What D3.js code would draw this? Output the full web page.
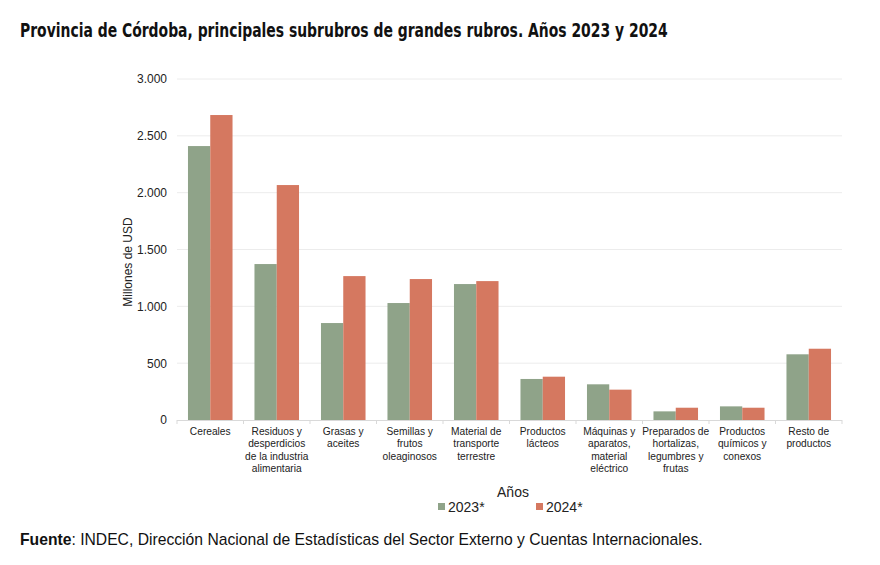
<!DOCTYPE html>
<html><head><meta charset="utf-8">
<script src="https://cdn.jsdelivr.net/npm/d3@7"></script>
<style>body{margin:0;background:#fff;} svg{display:block;}</style>
</head><body>
<script>
const categories = [
  ["Cereales"],
  ["Residuos y","desperdicios","de la industria","alimentaria"],
  ["Grasas y","aceites"],
  ["Semillas y","frutos","oleaginosos"],
  ["Material de","transporte","terrestre"],
  ["Productos","lácteos"],
  ["Máquinas y","aparatos,","material","eléctrico"],
  ["Preparados de","hortalizas,","legumbres y","frutas"],
  ["Productos","químicos y","conexos"],
  ["Resto de","productos"]
];
const series = ["2023*","2024*"];
const values2023 = [2410, 1372, 853, 1029, 1196, 361, 314, 76, 120, 578];
const values2024 = [2683, 2067, 1266, 1240, 1222, 381, 267, 108, 108, 627];
const yTicks = [0, 500, 1000, 1500, 2000, 2500, 3000];
const colors = ["#8fa389", "#d57860"];

const W = 880, H = 565;
const svg = d3.select("body").append("svg").attr("width", W).attr("height", H);
const font = "'Liberation Sans', Arial, sans-serif";

const x0 = d3.scaleBand().domain(d3.range(categories.length)).range([177, 842]).paddingInner(0.33).paddingOuter(0.165);
const x1 = d3.scaleBand().domain([0,1]).range([0, x0.bandwidth()]);
const y = d3.scaleLinear().domain([0, 3000]).range([420, 79]);
const fmt = d3.formatLocale({decimal:",", thousands:".", grouping:[3], currency:["",""]}).format(",d");

// gridlines
svg.append("g").selectAll("line").data(yTicks.slice(1)).join("line")
  .attr("x1", 177).attr("x2", 842).attr("y1", d => y(d)).attr("y2", d => y(d))
  .attr("stroke", "#ececec").attr("stroke-width", 1);

// y axis labels
const yAxis = d3.axisLeft(y).tickValues(yTicks).tickFormat(fmt).tickSize(0).tickPadding(10);
const gy = svg.append("g").attr("transform", "translate(177,0)").call(yAxis);
gy.select(".domain").remove();
gy.selectAll("text").attr("font-family", font).attr("font-size", 12).attr("fill", "#222");

// bars
const vals = [values2023, values2024];
const g = svg.append("g");
categories.forEach((c, i) => {
  vals.forEach((v, s) => {
    g.append("rect")
      .attr("x", x0(i) + x1(s)).attr("width", x1.bandwidth())
      .attr("y", y(v[i])).attr("height", y(0) - y(v[i]))
      .attr("fill", colors[s]);
  });
});

// x axis
const xb = d3.scaleLinear().domain([0, categories.length]).range([177, 842]);
svg.append("line").attr("x1", 177).attr("x2", 842).attr("y1", 420.5).attr("y2", 420.5).attr("stroke", "#d9d9d9");
svg.append("g").selectAll("line").data(d3.range(categories.length + 1)).join("line")
  .attr("x1", d => xb(d)).attr("x2", d => xb(d)).attr("y1", 420).attr("y2", 424).attr("stroke", "#d9d9d9");

const xl = svg.append("g");
categories.forEach((lines, i) => {
  const t = xl.append("text").attr("text-anchor", "middle").attr("font-family", font)
    .attr("font-size", 10.2).attr("fill", "#222");
  lines.forEach((ln, k) => {
    t.append("tspan").attr("x", x0(i) + x0.bandwidth()/2).attr("y", 435 + k*12.3).text(ln);
  });
});

// y title
svg.append("text").attr("transform", "translate(132,262) rotate(-90)").attr("text-anchor", "middle")
  .attr("font-family", font).attr("font-size", 12).attr("fill", "#222").text("Millones de USD");

// title: fit to reference width by font size, stretched vertically (condensed look)
const title = svg.append("text").attr("x", 0).attr("y", 0)
  .attr("transform", "translate(20,37) scale(1,1.3)")
  .attr("font-family", "'Liberation Sans Narrow','DejaVu Sans Condensed','Liberation Sans',Arial,sans-serif")
  .attr("font-weight", "bold").attr("font-size", 20).attr("fill", "#111")
  .text("Provincia de Córdoba, principales subrubros de grandes rubros. Años 2023 y 2024");
const tl = title.node().getComputedTextLength();
if (tl > 0) title.attr("font-size", Math.min(22, 20 * 648 / tl));

// legend
svg.append("text").attr("x", 513).attr("y", 497).attr("text-anchor", "middle")
  .attr("font-family", font).attr("font-size", 14).attr("fill", "#222").text("Años");
const legX = [438, 536];
series.forEach((s, i) => {
  svg.append("rect").attr("x", legX[i]).attr("y", 503).attr("width", 7).attr("height", 7).attr("fill", colors[i]);
  svg.append("text").attr("x", legX[i] + 10).attr("y", 512).attr("font-family", font)
    .attr("font-size", 14).attr("fill", "#222").text(s);
});

// source
const src = svg.append("text").attr("x", 20).attr("y", 545).attr("font-family", font)
  .attr("font-size", 15.7).attr("fill", "#111");
src.append("tspan").attr("font-weight", "bold").text("Fuente");
src.append("tspan").text(": INDEC, Dirección Nacional de Estadísticas del Sector Externo y Cuentas Internacionales.");
</script>
</body></html>
